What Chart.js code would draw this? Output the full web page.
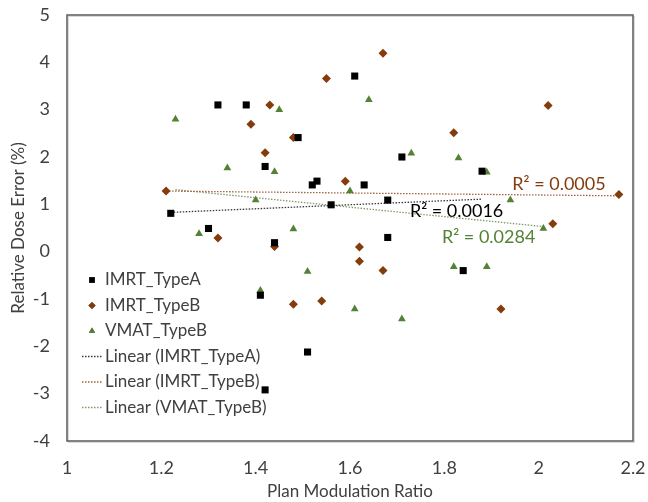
<!DOCTYPE html>
<html>
<head>
<meta charset="utf-8">
<script src="https://cdn.jsdelivr.net/npm/chart.js@4.4.0/dist/chart.umd.min.js"></script>
<style>
  html, body { margin: 0; padding: 0; background: #fff; }
  #wrap { width: 648px; height: 502px; }
</style>
</head>
<body>
<div id="wrap"><canvas id="chart"></canvas></div>
<script>
// plan modulation ratio (x) and relative dose error (y)
const imrtAX = [1.61, 1.32, 1.38, 1.49, 1.42, 1.52, 1.53, 1.56, 1.22, 1.30, 1.71, 1.63, 1.68, 1.88, 1.68, 1.44, 1.41, 1.51, 1.42, 1.84];
const imrtAY = [3.71, 3.10, 3.10, 2.41, 1.80, 1.41, 1.49, 0.99, 0.81, 0.49, 2.00, 1.41, 1.09, 1.70, 0.30, 0.19, -0.92, -2.12, -2.92, -0.40];

const imrtBX = [1.55, 1.43, 1.39, 1.48, 1.42, 1.59, 1.21, 1.32, 1.67, 2.02, 1.82, 2.17, 2.03, 1.44, 1.48, 1.54, 1.62, 1.62, 1.67, 1.92];
const imrtBY = [3.66, 3.10, 2.69, 2.41, 2.09, 1.49, 1.28, 0.29, 4.19, 3.09, 2.51, 1.21, 0.59, 0.11, -1.11, -1.04, 0.10, -0.20, -0.40, -1.21];

const vmatBX = [1.23, 1.45, 1.34, 1.44, 1.60, 1.40, 1.48, 1.28, 1.64, 1.73, 1.83, 1.89, 1.94, 2.01, 1.41, 1.51, 1.61, 1.71, 1.82, 1.89];
const vmatBY = [2.80, 3.00, 1.77, 1.69, 1.28, 1.09, 0.48, 0.38, 3.21, 2.08, 1.98, 1.68, 1.09, 0.49, -0.82, -0.42, -1.21, -1.42, -0.32, -0.32];

// trend line end points [x0, x1], [y0, y1]
const trendAX = [1.22, 1.88], trendAY = [0.83, 1.11];
const trendBX = [1.21, 2.17], trendBY = [1.28, 1.18];
const trendVX = [1.23, 2.01], trendVY = [1.31, 0.53];

const r2Labels = ['R² = 0.0016', 'R² = 0.0005', 'R² = 0.0284'];

const xTicks = [1, 1.2, 1.4, 1.6, 1.8, 2, 2.2];
const yTicks = [-4, -3, -2, -1, 0, 1, 2, 3, 4, 5];

const BLACK = '#000000';
const BROWN = '#843c0c';
const GREEN = '#548235';
const FONT = 'Lato, "Open Sans", sans-serif';

const pts = (xs, ys) => xs.map((x, i) => ({ x: x, y: ys[i] }));

const datasets = [
  { label: 'IMRT_TypeA', data: pts(imrtAX, imrtAY), pointStyle: 'rect', pointRadius: 5,
    backgroundColor: BLACK, borderColor: BLACK, borderWidth: 0, showLine: false, order: 1 },
  { label: 'IMRT_TypeB', data: pts(imrtBX, imrtBY), pointStyle: 'rectRot', pointRadius: 4.5,
    backgroundColor: BROWN, borderColor: BROWN, borderWidth: 0, showLine: false, order: 1 },
  { label: 'VMAT_TypeB', data: pts(vmatBX, vmatBY), pointStyle: 'triangle', pointRadius: 4.5,
    backgroundColor: GREEN, borderColor: GREEN, borderWidth: 0, showLine: false, order: 1 },
  { label: 'Linear (IMRT_TypeA)', data: pts(trendAX, trendAY), showLine: true, pointRadius: 0,
    borderColor: '#3a3a3a', borderWidth: 1.3, borderDash: [1.5, 1.5], order: 2 },
  { label: 'Linear (IMRT_TypeB)', data: pts(trendBX, trendBY), showLine: true, pointRadius: 0,
    borderColor: '#a0643c', borderWidth: 1.3, borderDash: [1.5, 1.5], order: 2 },
  { label: 'Linear (VMAT_TypeB)', data: pts(trendVX, trendVY), showLine: true, pointRadius: 0,
    borderColor: '#7f9a6a', borderWidth: 1.3, borderDash: [1.5, 1.5], order: 2 }
];

// plot frame, R² labels and the legend inside the plot
const extras = {
  id: 'extras',
  beforeDatasetsDraw(chart) {
    const { ctx, chartArea: a } = chart;
    ctx.save();
    ctx.strokeStyle = '#d9d9d9';
    ctx.lineWidth = 1;
    ctx.strokeRect(a.left + 1.5, a.top + 1.5, a.right - a.left, a.bottom - a.top);
    ctx.strokeStyle = '#595959';
    ctx.lineWidth = 1.5;
    ctx.strokeRect(a.left, a.top, a.right - a.left, a.bottom - a.top);
    ctx.restore();
  },
  afterDatasetsDraw(chart) {
    const { ctx, chartArea: a, scales } = chart;
    const sx = scales.x, sy = scales.y;
    ctx.save();
    ctx.font = '18px ' + FONT;
    ctx.textBaseline = 'middle';
    ctx.textAlign = 'left';
    ctx.fillStyle = BLACK;
    ctx.fillText(r2Labels[0], sx.getPixelForValue(1.727), sy.getPixelForValue(0.86));
    ctx.fillStyle = BROWN;
    ctx.fillText(r2Labels[1], sx.getPixelForValue(1.944), sy.getPixelForValue(1.43));
    ctx.fillStyle = GREEN;
    ctx.fillText(r2Labels[2], sx.getPixelForValue(1.795), sy.getPixelForValue(0.31));

    // legend
    const lx = a.left + 15, ly = 280, step = 25.5;
    ctx.font = '17px ' + FONT;
    chart.data.datasets.forEach((ds, i) => {
      const y = ly + i * step;
      if (ds.showLine) {
        ctx.strokeStyle = ds.borderColor;
        ctx.lineWidth = 1.3;
        ctx.setLineDash([1.5, 1.5]);
        ctx.beginPath();
        ctx.moveTo(lx, y);
        ctx.lineTo(lx + 21, y);
        ctx.stroke();
        ctx.setLineDash([]);
      } else {
        Chart.helpers.drawPoint(ctx, {
          pointStyle: ds.pointStyle, radius: ds.pointRadius * 0.8, rotation: 0, borderWidth: 0
        }, lx + 10, y);
        ctx.fillStyle = ds.backgroundColor;
        ctx.fill();
      }
      ctx.fillStyle = '#404040';
      ctx.fillText(ds.label, lx + 23, y);
    });
    ctx.restore();
  }
};

new Chart(document.getElementById('chart'), {
  type: 'scatter',
  data: { datasets: datasets },
  options: {
    responsive: true,
    maintainAspectRatio: false,
    animation: false,
    layout: { padding: { top: 15, right: 15, left: 0, bottom: 0 } },
    plugins: { legend: { display: false }, tooltip: { enabled: false } },
    scales: {
      x: {
        type: 'linear', min: 1, max: 2.2,
        afterBuildTicks: s => { s.ticks = xTicks.map(v => ({ value: v })); },
        afterFit: s => { s.height = 61; s.paddingLeft = 0; s.paddingRight = 0; },
        grid: { display: false, drawTicks: false },
        border: { display: false },
        ticks: { color: '#404040', font: { family: FONT, size: 18 }, padding: 16,
                 callback: v => String(v) },
        title: { display: true, text: 'Plan Modulation Ratio', color: '#404040',
                 font: { family: FONT, size: 17 }, padding: { top: 0, bottom: 0 } }
      },
      y: {
        type: 'linear', min: -4, max: 5,
        afterBuildTicks: s => { s.ticks = yTicks.map(v => ({ value: v })); },
        afterFit: s => { s.width = 67; s.paddingTop = 0; s.paddingBottom = 0; },
        grid: { display: false, drawTicks: false },
        border: { display: false },
        ticks: { color: '#404040', font: { family: FONT, size: 18 }, padding: 17,
                 callback: v => String(v) },
        title: { display: true, text: 'Relative Dose Error (%)', color: '#404040',
                 font: { family: FONT, size: 17 }, padding: { top: 8, bottom: 0 } }
      }
    }
  },
  plugins: [extras]
});
</script>
</body>
</html>
